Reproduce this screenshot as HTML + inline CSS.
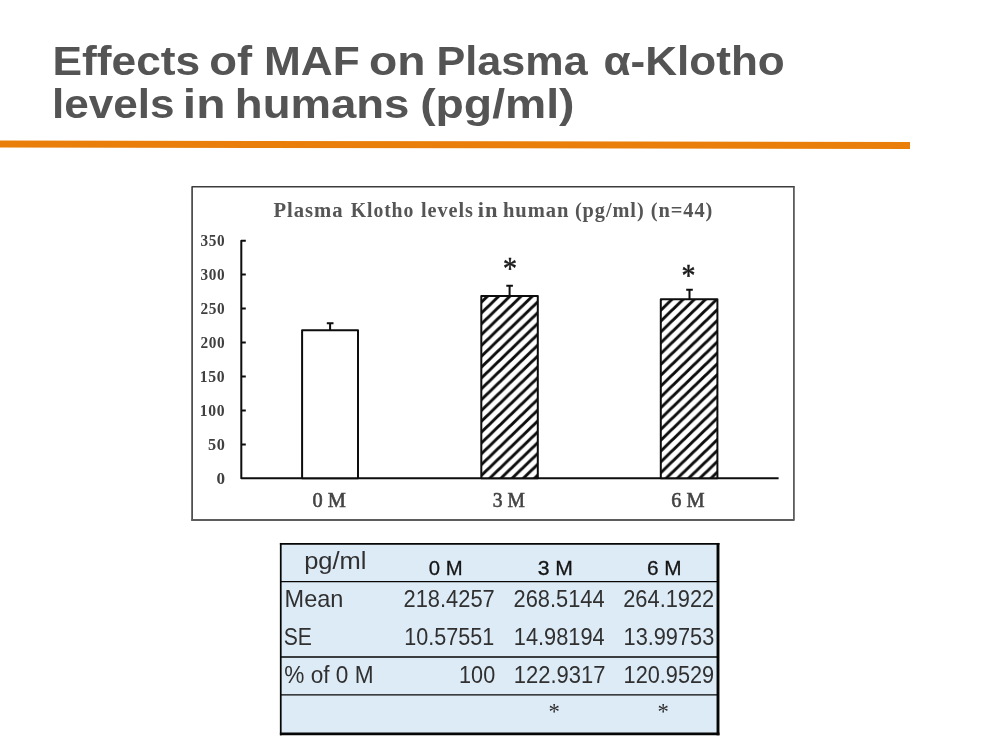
<!DOCTYPE html>
<html lang="en">
<head>
<meta charset="utf-8">
<title>Effects of MAF on Plasma α-Klotho levels in humans (pg/ml)</title>
<style>
  html, body { margin: 0; padding: 0; background: #ffffff; }
  body { width: 1000px; height: 750px; overflow: hidden; position: relative; }
  svg { position: absolute; left: 0; top: 0; display: block; }
  text { white-space: pre; }
  .title { font-family: "Liberation Sans", sans-serif; font-weight: 700; font-size: 40.3px; fill: #545454; }
  .ctitle { font-family: "Liberation Serif", serif; font-weight: 700; font-size: 22px; fill: #555555; letter-spacing: 1px; }
  .ytick { font-family: "Liberation Serif", serif; font-weight: 700; font-size: 17px; fill: #404040; letter-spacing: 0.7px; }
  .xlab { font-family: "Liberation Serif", serif; font-size: 20.7px; fill: #444444; stroke: #444444; stroke-width: 0.6px; }
  .star { font-family: "Liberation Serif", serif; font-size: 31px; fill: #1a1a1a; stroke: #1a1a1a; stroke-width: 0.5px; text-anchor: middle; }
  .th { font-family: "Liberation Sans", sans-serif; font-size: 20.8px; fill: #151515; stroke: #151515; stroke-width: 0.3px; }
  .td { font-family: "Liberation Sans", sans-serif; font-size: 23.8px; fill: #303030; }
  .tstar { font-family: "Liberation Serif", serif; font-size: 22.7px; fill: #2c2c2c; text-anchor: middle; }
</style>
</head>
<body>
<svg width="1000" height="750" viewBox="0 0 1000 750">
  <defs>
    <pattern id="hatchA" patternUnits="userSpaceOnUse" width="11.2" height="10.83" patternTransform="translate(476.6 296)">
      <rect width="11.2" height="10.83" fill="#ffffff"/>
      <path d="M-11.2 10.83 L11.2 -10.83 M-11.2 21.66 L22.4 -10.83 M0 21.66 L22.4 0" stroke="#0d0d0d" stroke-width="3" fill="none"/>
    </pattern>
    <pattern id="hatchB" patternUnits="userSpaceOnUse" width="11.2" height="10.83" patternTransform="translate(661 299.2)">
      <rect width="11.2" height="10.83" fill="#ffffff"/>
      <path d="M-11.2 10.83 L11.2 -10.83 M-11.2 21.66 L22.4 -10.83 M0 21.66 L22.4 0" stroke="#0d0d0d" stroke-width="3" fill="none"/>
    </pattern>
  </defs>

  <!-- slide title -->
  <g class="title">
    <text transform="translate(52.52 74.8) scale(1.0995 1)">Effects</text>
    <text transform="translate(209.16 74.8) scale(1.1275 1)">of</text>
    <text transform="translate(264.03 74.8) scale(1.0971 1)">MAF</text>
    <text transform="translate(369.12 74.8) scale(1.1474 1)">on</text>
    <text transform="translate(436.60 74.8) scale(1.0707 1)">Plasma</text>
    <text transform="translate(603.52 74.8) scale(1.0937 1)">α-Klotho</text>
    <text transform="translate(51.92 117.9) scale(1.0944 1)">levels</text>
    <text transform="translate(182.85 117.9) scale(1.1905 1)">in</text>
    <text transform="translate(234.82 117.9) scale(1.1304 1)">humans</text>
    <text transform="translate(420.15 117.9) scale(1.1501 1)">(pg/ml)</text>
  </g>
  <polygon points="0,140.5 910,142 910,149 0,147.5" fill="#e97f0a"/>

  <!-- chart frame -->
  <rect x="192.1" y="186.7" width="601.8" height="333.3" fill="#ffffff"/>
  <path d="M192.1 520.8 V186.7 H794.7" fill="none" stroke="#3c3c3c" stroke-width="1.6" stroke-linejoin="round"/>
  <path d="M793.9 186.7 V520 H191.3" fill="none" stroke="#5c5c5c" stroke-width="1.8" stroke-linejoin="round"/>
  <g class="ctitle">
    <text transform="translate(273.52 217.3) scale(0.9400 1)">Plasma</text>
    <text transform="translate(350.79 217.3) scale(0.8965 1)">Klotho</text>
    <text transform="translate(421.08 217.3) scale(0.9208 1)">levels</text>
    <text transform="translate(477.71 217.3) scale(1.0219 1)">in</text>
    <text transform="translate(502.95 217.3) scale(0.9342 1)">human</text>
    <text transform="translate(574.90 217.3) scale(0.9242 1)">(pg/ml)</text>
    <text transform="translate(650.69 217.3) scale(0.9288 1)">(n=44)</text>
  </g>

  <!-- y axis -->
  <g class="ytick">
    <text transform="translate(200.49 246.3) scale(0.8991 1)">350</text>
    <text transform="translate(200.49 280.2) scale(0.8991 1)">300</text>
    <text transform="translate(200.39 314.1) scale(0.9029 1)">250</text>
    <text transform="translate(200.39 348.1) scale(0.9029 1)">200</text>
    <text transform="translate(199.83 382.1) scale(0.9241 1)">150</text>
    <text transform="translate(199.83 416.1) scale(0.9241 1)">100</text>
    <text transform="translate(208.06 450.0) scale(0.9568 1)">50</text>
    <text transform="translate(216.45 483.9) scale(1.0090 1)">0</text>
  </g>
  <g stroke="#0d0d0d" stroke-width="2" fill="none" stroke-linejoin="round">
    <path d="M245.8 240.7 H241.3 V478.3 H778.6"/>
    <path d="M241.3 274.6 h4.5 M241.3 308.5 h4.5 M241.3 342.5 h4.5 M241.3 376.5 h4.5 M241.3 410.5 h4.5 M241.3 444.4 h4.5"/>
  </g>

  <!-- bars -->
  <g stroke="#0d0d0d" stroke-width="2" stroke-linejoin="round">
    <rect x="302.1" y="330.3" width="55.9" height="148" fill="#ffffff"/>
    <rect x="481.3" y="296" width="56.5" height="182.3" fill="url(#hatchA)"/>
    <rect x="660.8" y="299.2" width="56.6" height="179.1" fill="url(#hatchB)"/>
    <path d="M330.1 330 V323.2 M326.8 323.2 h6.7" fill="none"/>
    <path d="M509.6 296 V285.8 M506.3 285.8 h6.6" fill="none"/>
    <path d="M689.5 299 V289.8 M686.2 289.8 h6.6" fill="none"/>
  </g>
  <text class="star" transform="translate(510 278.8) scale(0.9 1)">*</text>
  <text class="star" transform="translate(688.6 285.6) scale(0.9 1)">*</text>
  <g class="xlab">
    <text transform="translate(312.49 507.3) scale(0.9853 1)">0 M</text>
    <text transform="translate(492.69 507.3) scale(0.9466 1)">3 M</text>
    <text transform="translate(671.20 507.3) scale(0.9821 1)">6 M</text>
  </g>

  <!-- data table -->
  <rect x="280.7" y="543.8" width="437.3" height="190" fill="#ddebf7"/>
  <g stroke="#060606" fill="none">
    <path d="M280.75 542.95 V735.3" stroke-width="1.75"/>
    <path d="M718 542.95 V735.3" stroke-width="2.9"/>
    <path d="M279.9 543.85 H719.45" stroke-width="1.8"/>
    <path d="M279.9 733.9 H719.45" stroke-width="2.8"/>
    <path d="M280.75 581.6 H718 M280.75 657 H718 M280.75 694.85 H718" stroke-width="1.4"/>
  </g>
  <g class="td">
    <text transform="translate(304.17 569.2) scale(1.0717 1)">pg/ml</text>
    <text transform="translate(284.57 607.2) scale(0.9884 1)">Mean</text>
    <text transform="translate(403.53 607.2) scale(0.9186 1)">218.4257</text>
    <text transform="translate(513.53 607.2) scale(0.9182 1)">268.5144</text>
    <text transform="translate(623.23 607.2) scale(0.9175 1)">264.1922</text>
    <text transform="translate(283.67 644.7) scale(0.8888 1)">SE</text>
    <text transform="translate(404.28 644.7) scale(0.9073 1)">10.57551</text>
    <text transform="translate(513.87 644.7) scale(0.9148 1)">14.98194</text>
    <text transform="translate(623.57 644.7) scale(0.9138 1)">13.99753</text>
    <text transform="translate(284.23 682.6) scale(0.9512 1)">% of 0 M</text>
    <text transform="translate(459.08 682.6) scale(0.9089 1)">100</text>
    <text transform="translate(513.85 682.6) scale(0.9236 1)">122.9317</text>
    <text transform="translate(623.57 682.6) scale(0.9128 1)">120.9529</text>
  </g>
  <g class="th">
    <text transform="translate(428.79 574.6) scale(0.9755 1)">0 M</text>
    <text transform="translate(537.68 574.6) scale(1.0180 1)">3 M</text>
    <text transform="translate(646.88 574.6) scale(0.9998 1)">6 M</text>
  </g>
  <text class="tstar" x="554.2" y="719.2">*</text>
  <text class="tstar" x="663.2" y="719.2">*</text>
</svg>
</body>
</html>
